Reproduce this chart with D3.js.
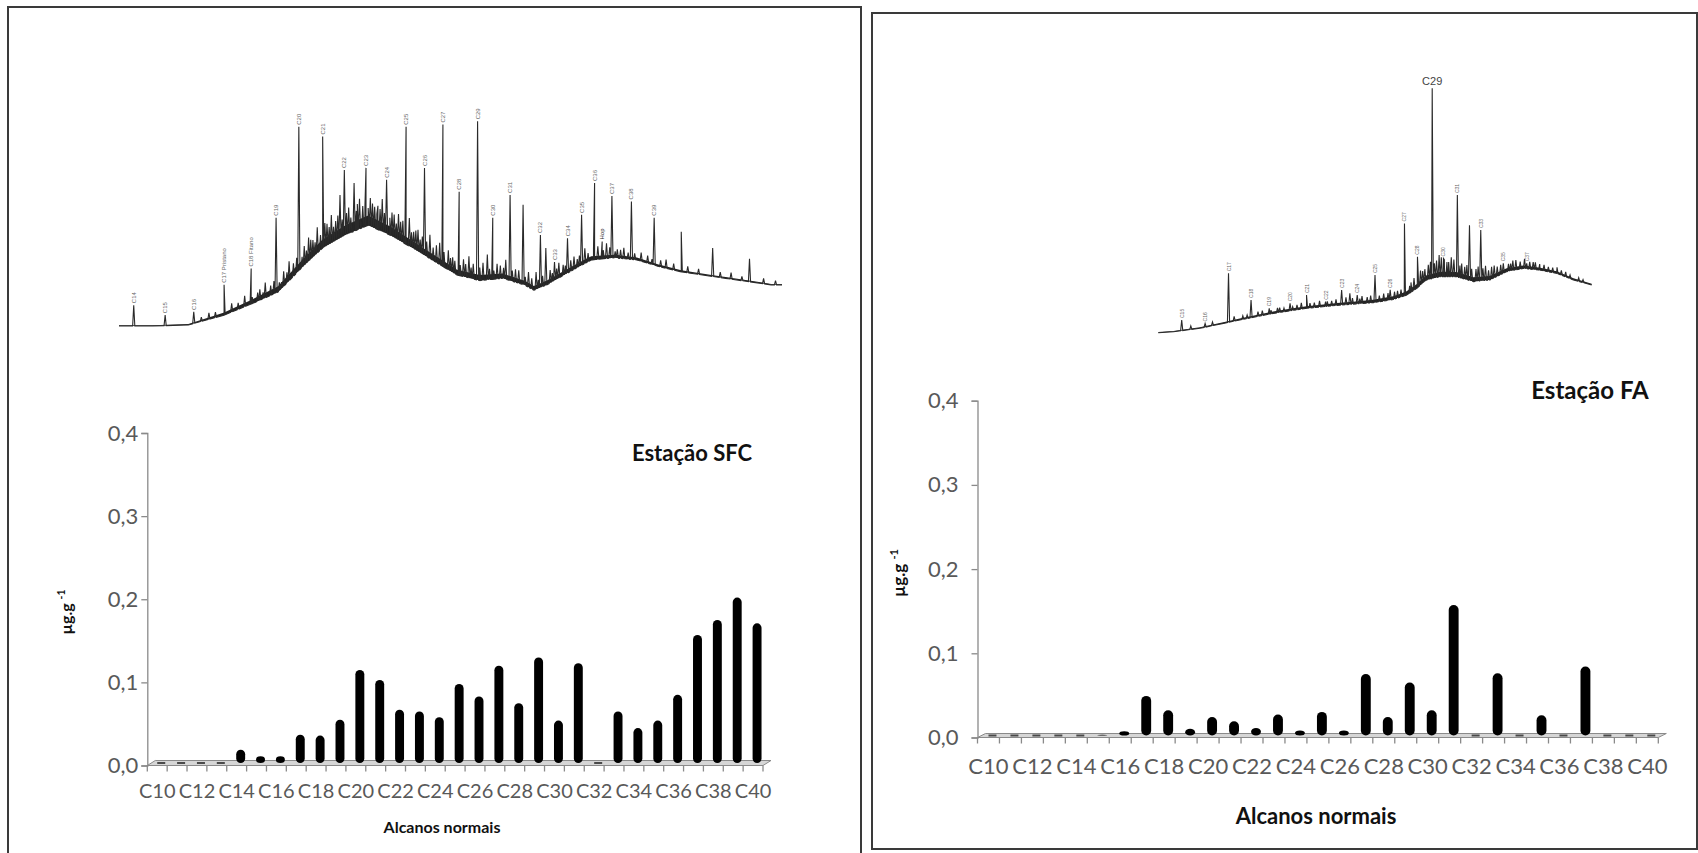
<!DOCTYPE html>
<html>
<head>
<meta charset="utf-8">
<script src="https://cdn.jsdelivr.net/npm/d3@7"></script>
<style>
  html, body { margin: 0; padding: 0; background: #ffffff; }
  svg { display: block; }
  .tick-lbl { font-family: Lato, "Open Sans", sans-serif; fill: #595959; }
  .bold-lbl { font-family: Lato, "Open Sans", sans-serif; font-weight: 700; fill: #111; }
</style>
</head>
<body>
<svg id="fig" width="1698" height="853"></svg>
<script>
// ---- n-alkane concentrations (µg/g) ----
const categories = ["C10","C11","C12","C13","C14","C15","C16","C17","C18","C19","C20",
  "C21","C22","C23","C24","C25","C26","C27","C28","C29","C30",
  "C31","C32","C33","C34","C35","C36","C37","C38","C39","C40"];
const tickLabels = ["C10","C12","C14","C16","C18","C20","C22","C24","C26","C28","C30",
  "C32","C34","C36","C38","C40"];
const yTicks = [0, 0.1, 0.2, 0.3, 0.4];

const sfcValues = [0, 0, 0, 0, 0.016, 0.008, 0.008, 0.034, 0.033, 0.052, 0.112,
  0.100, 0.064, 0.062, 0.055, 0.095, 0.080, 0.117, 0.072, 0.127, 0.051,
  0.120, 0, 0.062, 0.042, 0.051, 0.082, 0.154, 0.172, 0.199, 0.168];
const faValues = [0, 0, 0, 0, 0, 0.001, 0.005, 0.047, 0.030, 0.008, 0.022,
  0.017, 0.009, 0.025, 0.006, 0.028, 0.006, 0.073, 0.022, 0.063, 0.030,
  0.155, 0, 0.074, 0, 0.024, 0, 0.082, 0, 0, 0];

// ---- chromatogram SFC: baseline [time, intensity], peaks [time, apex, label] ----
const sfcBaseline = [[0,0],[3.1,0],[6.4,0.5],[9.7,5],[12.6,11],[14.7,15.7],[16.8,26.5],
  [18.8,36],[20.9,42],[23,46.5],[25,42],[27.1,36],[29.2,29.6],[31.2,23.5],[33.3,21],
  [35.4,22],[37.4,19],[38.3,16.5],[39.5,19],[41.6,25],[43.6,30.5],[45.7,31.5],
  [47.8,30.5],[49.8,27.5],[51.9,25],[56,22],[60.2,19],[61.2,19]];
// thickness of the unresolved-complex-mixture band above the baseline [time, thickness]
const sfcBand = [[0,0.3],[6,0.4],[9,1],[12,1.8],[15,2.8],[18,3.8],[21,4.5],[23,4.5],
  [25,4],[28,3],[31,2.5],[34,2.5],[37,2],[40,2],[43,1.8],[46,1.4],[50,0.9],[55,0.6],
  [61.2,0.4]];
const sfcPeaks = [[1.36,9.6,"C14"],[4.26,5,"C15"],[6.9,6.5,"C16"],[9.7,19,"C17 Pristano"],
  [12.2,26.5,"C18 Fitano"],[14.5,50,"C19"],[16.6,92,"C20"],[18.8,87.5,"C21"],
  [20.4,60.5,""],[20.8,72,"C22"],[21.7,66,""],[22.8,73,"C23"],[23.6,55,""],
  [24.7,67.5,"C24"],[25.4,51.5,""],[26.5,92,"C25"],[27.2,43.5,""],[28.2,73,"C26"],
  [29.9,93,"C27"],[31.4,62,"C28"],[33.1,94.5,"C29"],[34,33,""],[34.5,50,"C30"],
  [36.1,60.5,"C31"],[37.3,56,""],[38.9,42,"C32"],[39.4,36,""],[40.2,29.5,"C33"],
  [41.4,40.5,"C34"],[42.7,51.3,"C35"],[43.9,66,"C36"],[44.6,39,"Hop"],[45.5,60,"C37"],
  [47.3,57.5,"C38"],[49.4,50,"C39"],[51.9,43.5,""],[54.8,36,""],[58.2,31,""]];
// small unresolved peaks riding on the hump: [time, height above baseline]
const sfcMinor = [[7.6,2],[8.3,3],[8.9,2.5],[10.4,4],[11.0,3],[11.6,5],[12.3,3],[12.8,4],
  [13.0,5],[13.3,3],[13.5,7],[14.0,4.5],[14.3,6],[14.8,4],[15.0,3],[15.2,7],[15.5,5],
  [15.7,9],[16.1,6],[16.4,7],[16.9,5],[17.1,9],[17.3,6],[17.5,11],[17.7,9],[17.9,8],
  [18.1,6],[18.3,12],[18.6,7],[19.0,11],[19.2,10],[19.4,8],[19.6,13],[19.8,7],[20.0,9],
  [20.2,11],[20.6,8],[21.0,10],[21.2,12],[21.4,7],[21.9,9],[22.0,12],[22.2,14],[22.5,10],
  [22.7,9],[23.0,8],[23.2,13],[23.4,11],[23.8,7],[23.9,11],[24.1,10],[24.3,15],[24.5,9],
  [25.0,8],[25.2,11],[25.6,7],[25.8,12],[26.0,9],[26.2,10],[26.4,8],[26.8,13],[27.0,7],
  [27.4,9],[27.6,10],[27.8,6],[28.0,8],[28.4,7],[28.7,11],[29.0,6],[29.3,8],[29.6,10],
  [30.0,7],[30.4,9],[30.6,6],[30.8,7],[31.0,6],[31.5,5],[31.8,8],[32.0,6],[32.3,10],
  [32.5,5],[32.7,7],[33.3,6],[33.6,8],[34.2,5],[34.6,4],[34.9,7],[35.2,6],[35.5,5],
  [35.7,9],[36.3,5],[36.6,6],[36.9,6],[37.5,4],[37.8,7],[38.1,5],[38.5,8],[38.7,4],
  [39.1,5],[39.8,6],[40.0,4],[40.4,5],[40.6,7],[41.0,5],[41.2,4],[41.7,5],[42.0,6],
  [42.3,4],[42.5,5],[43.0,7],[43.3,4],[43.8,5],[44.2,6],[44.7,4],[45.0,7],[45.3,5],
  [45.8,3],[46.0,4],[46.3,4],[46.6,5],[47.0,3],[47.6,3],[48.2,4],[48.8,3.5],[49.2,2.5],
  [50.0,3],[50.5,4],[51.2,3],[52.5,3],[53.5,2.5],[55.5,2.5],[56.5,3],[57.5,2],
  [59.5,2.5],[60.6,2]];

// ---- chromatogram FA ----
const faBaseline = [[0,0],[3.5,0.4],[9.6,1.8],[15,3.8],[18.8,5.2],[26.5,7.9],[34.2,10],
  [41.9,11.3],[49.6,12.3],[54.2,13.6],[57.3,15.4],[59.6,18.1],[61.9,21.6],[65,22.9],
  [68.8,22.9],[72.7,20.9],[76.5,21.6],[80.4,25],[84.2,26.3],[88.1,25.6],[91.9,24.3],
  [95.8,21.6],[100,19.5]];
const faBand = [[0,0.3],[15,0.5],[30,0.8],[45,1],[55,1.3],[60,1.8],[65,2],[72,1.8],
  [80,1.4],[90,0.9],[100,0.5]];
const faPeaks = [[5.4,5.2,"C15"],[10.8,3.8,"C16"],[16.2,24.3,"C17"],[21.4,13.4,"C18"],
  [25.6,10,"C19"],[30.4,12,"C20"],[34.2,15.4,"C21"],[38.6,12.7,"C22"],[42.3,17.5,"C23"],
  [44.2,16.1,""],[45.9,15.4,"C24"],[50,23.6,"C25"],[53.5,17.5,"C26"],[56.8,44.7,"C27"],
  [59.8,31.1,"C28"],[63.2,100,"C29"],[65.8,30.4,"C30"],[69,56.3,"C31"],[71.8,44,""],
  [74.4,42,"C33"],[79.6,28.4,"C35"],[85,28.4,"C37"]];
const faMinor = [[7.5,1.5],[12.5,1.5],[17.5,2],[19.5,1.5],[20.5,1.5],[23,2],[24,2],
  [26,1.5],[27.5,2],[28,2],[29,1.5],[31,1.5],[32,2],[33,2.5],[35,2],[36,2],[37.2,2.5],
  [39,2],[40,2],[41,2.5],[43.3,3],[44.8,2.5],[46.5,2],[47,3],[48.2,2.5],[49,3],[51,2.5],
  [52,3],[53,3],[54.5,3],[55.2,3],[56,3],[57,4],[58,3],[58.3,4],[59,5],[60,4],[60.5,6],
  [61,5],[61.5,5],[62.3,6],[62.8,7],[63.7,6],[64.2,7],[64.8,9],[65.3,8],[66,7],[66.6,6],
  [67,6],[67.6,8],[68.2,7],[69.6,5],[70,6],[70.7,5],[71.2,6],[72.3,5],[73.3,5],[73.8,6],
  [74.9,5],[75.5,6],[76.2,4],[76.9,5],[77.5,5],[78.2,4],[79,4],[80.8,3],[81.3,3],
  [81.8,4],[82.5,4],[83.5,3],[84.5,4],[85.7,3],[86.5,3],[87,3],[88,2.5],[89,2.5],[90,2],
  [91,2],[92,2.5],[93,2],[94,2],[95,1.5],[97,1.5],[98,1.2]];

const svg = d3.select("#fig");

// panel frames
const frames = [
  {x: 8, y: 7, w: 853, h: 860},
  {x: 872, y: 13, w: 825, h: 836}
];
svg.selectAll("rect.frame").data(frames).join("rect")
  .attr("class", "frame")
  .attr("x", d => d.x).attr("y", d => d.y)
  .attr("width", d => d.w).attr("height", d => d.h)
  .attr("fill", "none").attr("stroke", "#3a3a3a").attr("stroke-width", 2);

function fmt(d) { return d3.format(".1f")(d).replace(".", ","); }

function drawBars(cfg, values, station) {
  const g = svg.append("g");
  const x = d3.scaleBand().domain(categories).range([cfg.x0, cfg.x1]).padding(0);
  const y = d3.scaleLinear().domain([0, 0.4]).range([cfg.y0, cfg.yTop]);
  const dx = cfg.depthX, dy = cfg.depthY;

  // floor
  const y0 = y(0);
  g.append("path")
    .attr("d", `M${cfg.x0},${y0}L${cfg.x1},${y0}L${cfg.x1 + dx},${y0 - dy}L${cfg.x0 + dx},${y0 - dy}Z`)
    .attr("fill", "#d6d6d6").attr("stroke", "#8a8a8a").attr("stroke-width", 1);

  // value axis
  const yAxis = d3.axisLeft(y).tickValues(yTicks).tickFormat(fmt)
    .tickSize(6).tickPadding(cfg.yPad);
  const ya = g.append("g").attr("transform", `translate(${cfg.x0},0)`).call(yAxis);
  ya.select(".domain").attr("stroke", "#8a8a8a").attr("stroke-width", 1.3);
  ya.selectAll(".tick line").attr("stroke", "#8a8a8a").attr("stroke-width", 1.3);
  ya.selectAll(".tick text").attr("class", "tick-lbl")
    .style("font-size", cfg.yFont + "px").attr("fill", "#595959");

  // category axis ticks at band boundaries
  const bounds = categories.map(c => x(c)).concat([cfg.x1]);
  g.selectAll("line.ctick").data(bounds).join("line")
    .attr("x1", d => d).attr("x2", d => d)
    .attr("y1", y0).attr("y2", y0 + 6)
    .attr("stroke", "#8a8a8a").attr("stroke-width", 1.3);

  // category labels
  const xAxis = d3.axisBottom(x).tickValues(tickLabels).tickSize(0).tickPadding(cfg.xPad);
  const xa = g.append("g").attr("transform", `translate(0,${y0})`).call(xAxis);
  xa.select(".domain").remove();
  xa.selectAll(".tick text").attr("class", "tick-lbl")
    .style("font-size", cfg.xFont + "px").attr("fill", "#595959");

  // columns, standing in the middle of the floor depth
  const bw = x.bandwidth() * 0.45;
  const off = dx / 2, lift = dy / 2;
  const rows = categories.map((c, i) => ({c, v: values[i]}));
  g.selectAll("rect.col").data(rows.filter(d => d.v > 0)).join("rect")
    .attr("class", "col")
    .attr("x", d => x(d.c) + x.bandwidth() / 2 + off - bw / 2)
    .attr("y", d => y(d.v) - lift)
    .attr("width", bw)
    .attr("height", d => y0 - y(d.v))
    .attr("rx", bw / 2).attr("ry", bw / 2)
    .attr("fill", "#000");
  g.selectAll("rect.zero").data(rows.filter(d => d.v === 0)).join("rect")
    .attr("class", "zero")
    .attr("x", d => x(d.c) + x.bandwidth() / 2 + off - 4)
    .attr("y", y0 - lift - 1)
    .attr("width", 8).attr("height", 2)
    .attr("fill", "#4a4a4a");

  // titles
  g.append("text").attr("class", "bold-lbl")
    .attr("x", cfg.stationX).attr("y", cfg.stationY)
    .attr("text-anchor", "middle").style("font-size", cfg.stationFont + "px")
    .text(station);
  g.append("text").attr("class", "bold-lbl")
    .attr("x", cfg.xTitleX).attr("y", cfg.xTitleY)
    .attr("text-anchor", "middle").style("font-size", cfg.xTitleFont + "px")
    .text("Alcanos normais");
  const yt = g.append("text").attr("class", "bold-lbl")
    .attr("transform", `translate(${cfg.yTitleX},${cfg.yTitleY}) rotate(-90)`)
    .attr("text-anchor", "middle").style("font-size", cfg.yTitleFont + "px");
  yt.append("tspan").text("µg.g ");
  yt.append("tspan").attr("dy", -7).style("font-size", (cfg.yTitleFont * 0.65) + "px").text("-1");
}

function drawChromatogram(cfg, baseline, band, peaks, minor) {
  const g = svg.append("g");
  const x = d3.scaleLinear().domain(cfg.tDomain).range([cfg.x0, cfg.x1]);
  const y = d3.scaleLinear().domain([0, 100]).range([cfg.y0, cfg.yTop]);
  const base = d3.scaleLinear().domain(baseline.map(d => d[0])).range(baseline.map(d => d[1]));
  const thick = d3.scaleLinear().domain(band.map(d => d[0])).range(band.map(d => d[1]));
  const w = cfg.halfWidth;

  // dense unresolved band sitting on the baseline
  const bandPts = baseline.map(d => d[0]).concat(band.map(d => d[0])).sort((a, b) => a - b);
  g.append("path")
    .attr("d", d3.area().x(t => x(t)).y0(t => y(base(t))).y1(t => y(base(t) + thick(t)))(bandPts))
    .attr("fill", "#222");

  const pts = baseline.map(d => [d[0], d[1]]);
  peaks.forEach(p => {
    pts.push([p[0] - w, base(p[0] - w)], [p[0], p[1]], [p[0] + w, base(p[0] + w)]);
  });
  minor.forEach(m => {
    pts.push([m[0] - w, base(m[0] - w)], [m[0], base(m[0]) + m[1]], [m[0] + w, base(m[0] + w)]);
  });
  pts.sort((a, b) => a[0] - b[0]);

  const line = d3.line().x(d => x(d[0])).y(d => y(d[1]));
  g.append("path").attr("d", line(pts))
    .attr("fill", "none").attr("stroke", "#2a2a2a")
    .attr("stroke-width", 1.1).attr("stroke-linejoin", "miter");

  g.selectAll("text.pk").data(peaks.filter(p => p[2] !== "" && !(cfg.flatLabel && p[2] === cfg.flatLabel)))
    .join("text")
    .attr("transform", p => `translate(${x(p[0]) + 2},${y(p[1]) - 2}) rotate(-90)`)
    .attr("font-family", "Liberation Sans, Arial, sans-serif")
    .attr("font-size", cfg.labelSize)
    .attr("fill", p => p[2] === "Hop" ? "#222" : "#666")
    .text(p => p[2]);

  if (cfg.flatLabel) {
    const p = peaks.find(d => d[2] === cfg.flatLabel);
    g.append("text")
      .attr("x", x(p[0])).attr("y", y(p[1]) - 3)
      .attr("text-anchor", "middle")
      .attr("font-family", "Liberation Sans, Arial, sans-serif")
      .attr("font-size", 11).attr("fill", "#444")
      .text(p[2]);
  }
}

drawChromatogram({tDomain: [0, 61.2], x0: 119, x1: 782, y0: 326, yTop: 109.4,
  halfWidth: 0.1, labelSize: 6}, sfcBaseline, sfcBand, sfcPeaks, sfcMinor);
drawChromatogram({tDomain: [0, 100], x0: 1158.3, x1: 1591.7, y0: 332.7, yTop: 88.3,
  halfWidth: 0.25, labelSize: 5, flatLabel: "C29"}, faBaseline, faBand, faPeaks, faMinor);

drawBars({x0: 147.3, x1: 763, y0: 765.5, yTop: 433, depthX: 8, depthY: 5,
  yPad: 3, yFont: 22, xPad: 18, xFont: 20,
  stationX: 692, stationY: 461, stationFont: 22,
  xTitleX: 442, xTitleY: 833, xTitleFont: 16,
  yTitleX: 72, yTitleY: 612, yTitleFont: 16},
  sfcValues, "Estação SFC");
drawBars({x0: 977.5, x1: 1658.3, y0: 737.5, yTop: 400.7, depthX: 8, depthY: 4,
  yPad: 13, yFont: 22, xPad: 21, xFont: 22,
  stationX: 1590, stationY: 399, stationFont: 24,
  xTitleX: 1316, xTitleY: 824, xTitleFont: 22,
  yTitleX: 905, yTitleY: 573, yTitleFont: 17},
  faValues, "Estação FA");
</script>
</body>
</html>
